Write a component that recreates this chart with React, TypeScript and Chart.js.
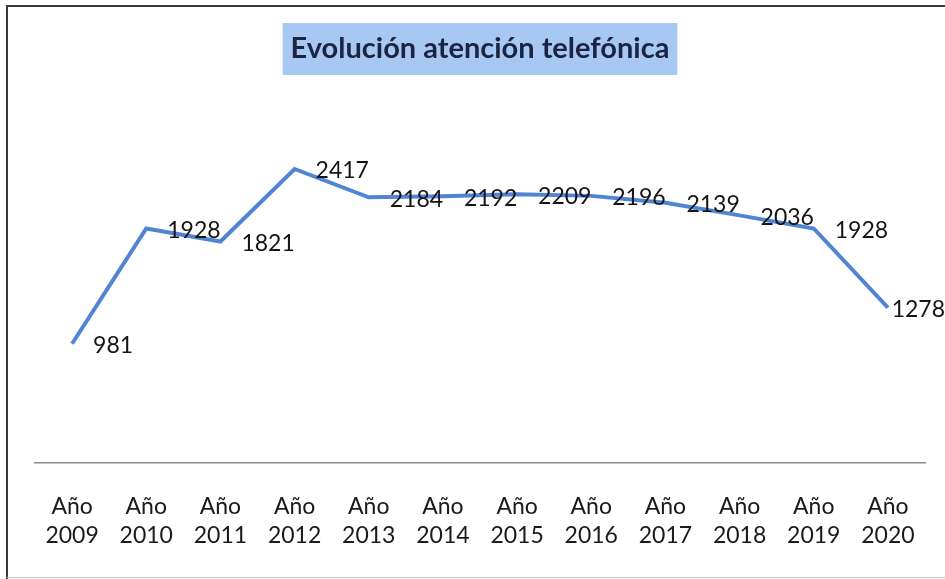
import React, { useEffect, useRef } from "react";
import { Chart, registerables } from "chart.js";

Chart.register(...registerables);

const years = ["2009", "2010", "2011", "2012", "2013", "2014", "2015", "2016", "2017", "2018", "2019", "2020"];
const categories = years.map((y) => ["Año", y]);
const calls = [981, 1928, 1821, 2417, 2184, 2192, 2209, 2196, 2139, 2036, 1928, 1278];
const titleText = "Evolución atención telefónica";

const FONT = "Lato, 'Open Sans', sans-serif";

const framePlugin = {
  id: "frame",
  beforeDraw(chart: any) {
    const ctx = chart.ctx;
    ctx.save();
    ctx.fillStyle = "#ffffff";
    ctx.fillRect(0, 0, chart.width, chart.height);
    ctx.strokeStyle = "#3a3a3a";
    ctx.lineWidth = 2;
    ctx.beginPath();
    ctx.moveTo(7, chart.height);
    ctx.lineTo(7, 6);
    ctx.lineTo(chart.width, 6);
    ctx.stroke();
    ctx.strokeStyle = "#c8c8c8";
    ctx.lineWidth = 1;
    ctx.beginPath();
    ctx.moveTo(7, 577.5);
    ctx.lineTo(chart.width, 577.5);
    ctx.stroke();
    ctx.restore();
  },
  afterDraw(chart: any) {
    const ctx = chart.ctx;
    ctx.save();
    ctx.font = `bold 29px ${FONT}`;
    const w = ctx.measureText(titleText).width;
    const cx = 480;
    const cy = 49;
    ctx.fillStyle = "#a6c8f2";
    ctx.fillRect(cx - w / 2 - 8, 23, w + 16, 52);
    ctx.fillStyle = "#1b2541";
    ctx.textAlign = "center";
    ctx.textBaseline = "middle";
    ctx.fillText(titleText, cx, cy);
    ctx.restore();
  },
};

const labelsPlugin = {
  id: "pointLabels",
  afterDatasetsDraw(chart: any) {
    const ctx = chart.ctx;
    const meta = chart.getDatasetMeta(0);
    const data = chart.data.datasets[0].data;
    ctx.save();
    ctx.font = `23px ${FONT}`;
    ctx.fillStyle = "#141414";
    ctx.textAlign = "left";
    ctx.textBaseline = "middle";
    meta.data.forEach((pt: any, i: number) => {
      const txt = String(data[i]);
      const w = ctx.measureText(txt).width;
      const x = Math.min(pt.x + 21, chart.width - w);
      ctx.fillText(txt, x, pt.y + 2);
    });
    ctx.restore();
  },
};

export default function App() {
  const ref = useRef<HTMLCanvasElement | null>(null);
  useEffect(() => {
    document.body.style.margin = "0";
    if (!ref.current) return;
    const chart = new Chart(ref.current, {
      type: "line",
      data: {
        labels: categories,
        datasets: [
          {
            data: calls,
            borderColor: "#5284d4",
            borderWidth: 4,
            pointRadius: 0,
            tension: 0,
            fill: false,
          },
        ],
      },
      options: {
        animation: false,
        responsive: false,
        layout: { padding: { top: 98, left: 35, right: 20, bottom: 0 } },
        plugins: {
          legend: { display: false },
          title: { display: false },
          tooltip: { enabled: false },
        },
        scales: {
          x: {
            offset: true,
            grid: { display: false, drawTicks: false },
            border: { display: true, color: "#8a8a8a", width: 1.5 },
            ticks: {
              color: "#1a1a1a",
              padding: 28,
              maxRotation: 0,
              autoSkip: false,
              font: { family: FONT, size: 23, lineHeight: 1.3 },
            },
          },
          y: {
            display: false,
            min: 0,
            max: 3000,
          },
        },
      },
      plugins: [framePlugin, labelsPlugin],
    });
    return () => chart.destroy();
  }, []);
  return (
    <div style={{ width: 945, height: 579 }}>
      <canvas ref={ref} width={945} height={579} />
    </div>
  );
}
